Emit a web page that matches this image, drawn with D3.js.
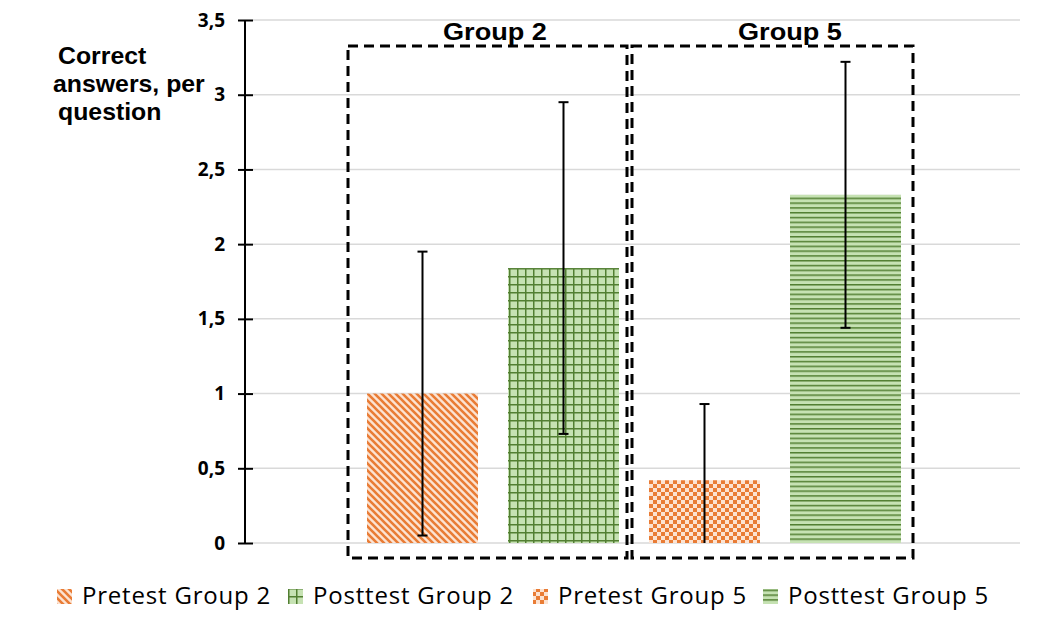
<!DOCTYPE html>
<html>
<head>
<meta charset="utf-8">
<script src="https://cdn.jsdelivr.net/npm/d3@7"></script>
<style>
  body { margin: 0; background: #fff; }
  svg { display: block; }
</style>
</head>
<body>
<div id="wrapper"></div>
<script>
// data
const series = ['Pretest Group 2', 'Posttest Group 2', 'Pretest Group 5', 'Posttest Group 5'];
const values = [1.0, 1.84, 0.42, 2.33];
const errLow = [0.05, 0.73, 0.0, 1.44];
const errHigh = [1.95, 2.95, 0.93, 3.22];
const yTicks = [0, 0.5, 1, 1.5, 2, 2.5, 3, 3.5];
const groups = ['Group 2', 'Group 5'];
const patterns = ['diag', 'grid', 'check', 'hlines'];

//dimensions
let dimensions = {
    width: 1041,
    height: 631,
    margin: { top: 20, right: 21, bottom: 88, left: 253 }
};
dimensions.boundW = dimensions.width - dimensions.margin.left - dimensions.margin.right;
dimensions.boundH = dimensions.height - dimensions.margin.top - dimensions.margin.bottom;

const svg = d3.select('#wrapper').append('svg')
    .attr('width', dimensions.width)
    .attr('height', dimensions.height);

// patterns
const defs = svg.append('defs');
const orange = '#E97C35', peach = '#FCE3D2', green = '#527F32', lightGreen = '#C6E2B3';

let p = defs.append('pattern').attr('id', 'diag').attr('patternUnits', 'userSpaceOnUse')
    .attr('width', 7).attr('height', 7);
p.append('rect').attr('width', 7).attr('height', 7).attr('fill', peach);
p.append('path').attr('d', 'M-2,-2 L9,9 M-2,5 L2,9 M5,-2 L9,2')
    .attr('stroke', orange).attr('stroke-width', 2.6);

p = defs.append('pattern').attr('id', 'grid').attr('patternUnits', 'userSpaceOnUse')
    .attr('width', 8).attr('height', 8);
p.append('rect').attr('width', 8).attr('height', 8).attr('fill', lightGreen);
p.append('path').attr('d', 'M0,0.75 H8 M0.75,0 V8')
    .attr('stroke', green).attr('stroke-width', 1.5);

p = defs.append('pattern').attr('id', 'check').attr('patternUnits', 'userSpaceOnUse')
    .attr('width', 8).attr('height', 8);
p.append('rect').attr('width', 8).attr('height', 8).attr('fill', peach);
p.append('rect').attr('width', 4).attr('height', 4).attr('fill', orange);
p.append('rect').attr('x', 4).attr('y', 4).attr('width', 4).attr('height', 4).attr('fill', orange);

p = defs.append('pattern').attr('id', 'hlines').attr('patternUnits', 'userSpaceOnUse')
    .attr('width', 8).attr('height', 4.8);
p.append('rect').attr('width', 8).attr('height', 4.8).attr('fill', lightGreen);
p.append('path').attr('d', 'M0,0.75 H8').attr('stroke', green).attr('stroke-width', 1.5);

const bounds = svg.append('g')
    .attr('transform', `translate(${dimensions.margin.left},${dimensions.margin.top})`);

// scales
const yScale = d3.scaleLinear()
    .domain([0, 3.5])
    .range([dimensions.boundH, 0]);

const xScale = d3.scaleBand()
    .domain(series)
    .range([0, 762])
    .paddingInner(0.2128)
    .paddingOuter(0.8085);

// grid
bounds.append('g').selectAll('line').data(yTicks).join('line')
    .attr('x1', 0).attr('x2', dimensions.boundW)
    .attr('y1', d => yScale(d)).attr('y2', d => yScale(d))
    .attr('stroke', '#D9D9D9').attr('stroke-width', 1.5);

// bars
bounds.append('g').selectAll('rect').data(series).join('rect')
    .attr('x', d => xScale(d))
    .attr('width', xScale.bandwidth())
    .attr('y', (d, i) => yScale(values[i]))
    .attr('height', (d, i) => yScale(0) - yScale(values[i]))
    .attr('fill', (d, i) => `url(#${patterns[i]})`);

// error bars
const err = bounds.append('g').attr('stroke', '#000').attr('stroke-width', 2);
series.forEach((s, i) => {
    const cx = xScale(s) + xScale.bandwidth() / 2;
    err.append('line').attr('x1', cx).attr('x2', cx)
        .attr('y1', yScale(errLow[i])).attr('y2', yScale(errHigh[i]));
    [errLow[i], errHigh[i]].forEach(v => {
        if (v === 0) return;
        err.append('line').attr('x1', cx - 5).attr('x2', cx + 5)
            .attr('y1', yScale(v)).attr('y2', yScale(v));
    });
});

// y axis
const yAxisGenerator = d3.axisLeft(yScale)
    .tickValues(yTicks)
    .tickSize(7)
    .tickPadding(13)
    .tickFormat(d => String(d).replace('.', ','));

const yAxis = bounds.append('g')
    .attr('transform', 'translate(-8,0)')
    .call(yAxisGenerator);
yAxis.select('.domain').remove();
yAxis.selectAll('.tick line').attr('x1', 8).attr('x2', -7).attr('stroke', '#000').attr('stroke-width', 2);
yAxis.selectAll('.tick text')
    .style('font-family', '"Open Sans", sans-serif')
    .style('font-weight', 'bold')
    .style('font-size', '19px')
    .attr('fill', '#000');
bounds.append('line')
    .attr('x1', -8).attr('x2', -8)
    .attr('y1', 0).attr('y2', dimensions.boundH)
    .attr('stroke', '#000').attr('stroke-width', 2);

// group boxes (dashed) and their titles
const boxes = [[95, 374], [379, 660]];
const labelX = [242, 537];
groups.forEach((g, i) => {
    const x0 = boxes[i][0], x1 = boxes[i][1];
    bounds.append('rect')
        .attr('x', x0).attr('y', 26)
        .attr('width', x1 - x0).attr('height', 512)
        .attr('fill', 'none').attr('stroke', '#000')
        .attr('stroke-width', 3).attr('stroke-dasharray', '10,6');
    bounds.append('text')
        .attr('transform', `translate(${labelX[i]},20) scale(1.13,1)`)
        .attr('text-anchor', 'middle')
        .style('font-family', '"Liberation Sans", Arial, sans-serif')
        .style('font-weight', 'bold')
        .style('font-size', '24px')
        .text(g);
});

// y title
const yTitle = svg.append('text')
    .attr('transform', 'scale(1.08,1)')
    .style('font-family', '"Liberation Sans", Arial, sans-serif')
    .style('font-weight', 'bold')
    .style('font-size', '23px');
['Correct', 'answers, per', 'question'].forEach((t, i) => {
    yTitle.append('tspan').attr('x', (i === 1 ? 53 : 58) / 1.08).attr('y', 64 + i * 28).text(t);
});

// legend
const legendX = [57, 288, 533, 763];
const legend = svg.append('g').attr('transform', 'translate(0,604)');
series.forEach((s, i) => {
    legend.append('rect')
        .attr('x', legendX[i]).attr('y', -15)
        .attr('width', 15).attr('height', 15)
        .attr('fill', `url(#${patterns[i]})`);
    legend.append('text')
        .attr('x', legendX[i] + 25).attr('y', 0)
        .style('font-family', '"Open Sans", sans-serif')
        .style('font-size', '24px')
        .style('letter-spacing', '0.8px')
        .text(s);
});
</script>
</body>
</html>
